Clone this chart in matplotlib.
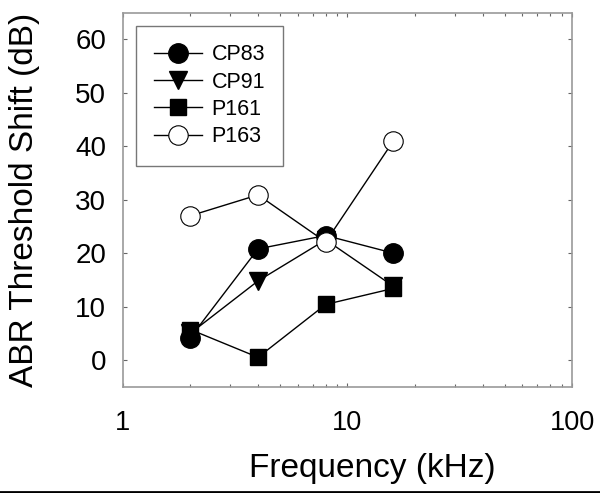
import matplotlib
matplotlib.use("Agg")
import matplotlib.pyplot as plt
from matplotlib.lines import Line2D

plt.rcParams['font.family'] = ['Liberation Sans', 'DejaVu Sans']

freqs = [2, 4, 8, 16]
cp83 = [4.2, 20.8, 23.3, 20.0]
cp91 = [5.0, 14.8, 22.5, 13.8]
p161 = [5.7, 0.5, 10.4, 13.4]
p163 = [27.0, 30.9, 22.1, 41.0]

yticks = [0, 10, 20, 30, 40, 50, 60]
xticks = [1, 10, 100]
xticklabels = ["1", "10", "100"]

fig = plt.figure(figsize=(6.0, 4.93), dpi=100)
ax = fig.add_axes([0.2045, 0.2156, 0.7493, 0.7586])

frame_col = '#9a9a9a'
lw = 1.0
ax.plot(freqs, cp83, '-', color='black', lw=lw, marker='o', ms=14,
        mfc='black', mec='black', label='CP83', zorder=3)
ax.plot(freqs, cp91, '-', color='black', lw=lw, marker='v', ms=13,
        mfc='black', mec='black', label='CP91', zorder=4)
ax.plot(freqs, p161, '-', color='black', lw=lw, marker='s', ms=12,
        mfc='black', mec='black', label='P161', zorder=5)
ax.plot(freqs, p163, '-', color='black', lw=lw, marker='o', ms=14,
        mfc='white', mec='black', mew=0.8, label='P163', zorder=6)

ax.set_xscale('log')
ax.set_xlim(1, 100)
ax.set_ylim(-5, 65)
ax.set_yticks(yticks)
ax.set_xticks(xticks)
ax.set_xticklabels(xticklabels)

for sp in ax.spines.values():
    sp.set_color(frame_col)
    sp.set_linewidth(1.2)

ax.tick_params(axis='both', which='both', direction='in', top=True, right=True,
               color='#666666', width=0.8)
ax.tick_params(axis='both', which='major', length=3, labelsize=20)
ax.tick_params(axis='x', which='major', pad=17, labelsize=19.5)
ax.tick_params(axis='y', which='major', pad=12)
ax.tick_params(axis='x', which='minor', length=2.5)

ax.set_xlabel('Frequency (kHz)', fontsize=24, labelpad=12)
ax.xaxis.label.set_x(0.556)
ax.set_ylabel('ABR Threshold Shift (dB)', fontsize=24, labelpad=25)

leg = ax.legend(loc='upper left', bbox_to_anchor=(0.0298, 0.965), fontsize=15.5,
                frameon=True, fancybox=False, framealpha=1, edgecolor='#777777',
                handlelength=2.2, handletextpad=0.45, labelspacing=0.3,
                borderpad=0.85, borderaxespad=0)
leg.get_frame().set_linewidth(1.0)

fig.add_artist(Line2D([0, 1], [0.002, 0.002], transform=fig.transFigure,
                      color='black', lw=2))

fig.savefig('out.png', dpi=100)
